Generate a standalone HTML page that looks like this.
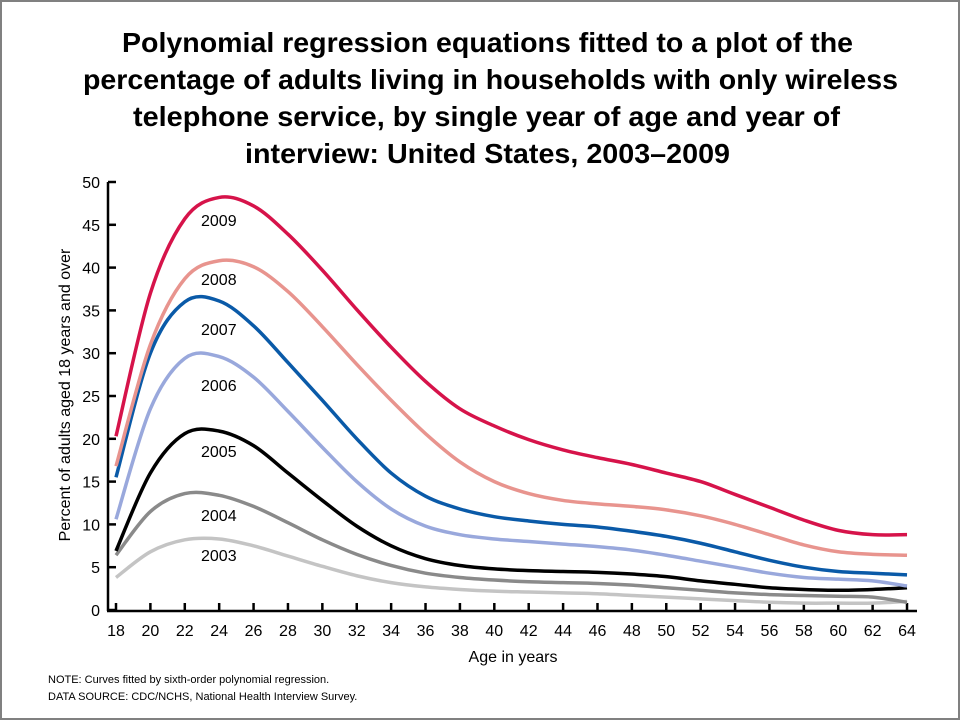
<!DOCTYPE html>
<html><head><meta charset="utf-8"><style>
html,body{margin:0;padding:0;background:#fff}
svg{display:block;font-family:"Liberation Sans",Arial,sans-serif}
</style></head><body>
<svg id="s" width="960" height="720" viewBox="0 0 960 720" xmlns="http://www.w3.org/2000/svg">
<rect x="1" y="1" width="958" height="718" fill="#fff" stroke="#808080" stroke-width="2"/>
<g font-weight="bold" font-size="28" text-anchor="start" fill="#000">
<text x="122" y="52" textLength="731" lengthAdjust="spacingAndGlyphs">Polynomial regression equations fitted to a plot of the</text>
<text x="83" y="89" textLength="815" lengthAdjust="spacingAndGlyphs">percentage of adults living in households with only wireless</text>
<text x="133" y="126" textLength="707" lengthAdjust="spacingAndGlyphs">telephone service, by single year of age and year of</text>
<text x="245" y="163" textLength="485" lengthAdjust="spacingAndGlyphs">interview: United States, 2003–2009</text>
</g>
<g id="axes" stroke="#000" stroke-width="2.5" fill="none">
<line x1="108" y1="182" x2="108" y2="611"/>
<line x1="107" y1="611" x2="917" y2="611"/>
</g>
<g id="ticks"></g>
<g id="curves" fill="none" stroke-width="3.5" stroke-linecap="butt"></g>
<g font-size="16" fill="#000">
<text x="201" y="226">2009</text>
<text x="201" y="285">2008</text>
<text x="201" y="335">2007</text>
<text x="201" y="391">2006</text>
<text x="201" y="457">2005</text>
<text x="201" y="521">2004</text>
<text x="201" y="561">2003</text>
</g>
<text x="513" y="662" font-size="16" text-anchor="middle">Age in years</text>
<text transform="translate(70,395) rotate(-90)" font-size="16" text-anchor="middle">Percent of adults aged 18 years and over</text>
<text x="48" y="683" font-size="11">NOTE: Curves fitted by sixth-order polynomial regression.</text>
<text x="48" y="700" font-size="11">DATA SOURCE: CDC/NCHS, National Health Interview Survey.</text>
</svg>
<script>
const NS="http://www.w3.org/2000/svg";
const X=a=>116+(a-18)*17.196, Y=v=>610-v*8.56;
const tk=document.getElementById('ticks');
function add(p,tag,at,txt){const e=document.createElementNS(NS,tag);for(const k in at)e.setAttribute(k,at[k]);if(txt!==undefined)e.textContent=txt;p.appendChild(e);return e;}
for(let v=0;v<=50;v+=5){const y=Y(v);add(tk,'line',{x1:108,x2:116,y1:y,y2:y,stroke:'#000','stroke-width':2.5});add(tk,'text',{x:100,y:y+6,'font-size':16,'text-anchor':'end'},v);}
for(let a=18;a<=64;a+=2){const x=X(a);add(tk,'line',{x1:x,x2:x,y1:603,y2:611,stroke:'#000','stroke-width':2.5});add(tk,'text',{x:x,y:636,'font-size':16,'text-anchor':'middle'},a);}
const D=[
['#c4c4c4',[3.8,6.8,8.2,8.3,7.5,6.3,5.1,4,3.2,2.7,2.4,2.2,2.1,2,1.9,1.7,1.5,1.3,1.1,0.9,0.8,0.8,0.8,1.0]],
['#8a8a8a',[6.4,11.5,13.6,13.4,12.1,10.2,8.2,6.5,5.2,4.3,3.8,3.5,3.3,3.2,3.1,2.9,2.6,2.3,2.0,1.8,1.7,1.6,1.5,0.9]],
['#000000',[6.9,16,20.6,20.9,19.2,16,12.8,9.8,7.5,6,5.2,4.8,4.6,4.5,4.4,4.2,3.9,3.4,3,2.6,2.4,2.3,2.4,2.6]],
['#99a8dc',[10.6,23.5,29.4,29.6,27.2,23.2,19,15,11.8,9.8,8.8,8.3,8,7.7,7.4,7,6.4,5.7,5,4.3,3.8,3.6,3.4,2.8]],
['#0a5aa8',[15.5,30,36,36.1,33.2,28.9,24.5,20,16,13.3,11.8,10.9,10.4,10,9.7,9.2,8.6,7.8,6.8,5.8,5,4.5,4.3,4.1]],
['#e8948e',[16.8,31,38.7,40.8,40.1,37.2,33.1,28.7,24.5,20.6,17.3,15,13.6,12.8,12.4,12.1,11.7,11,10,8.8,7.6,6.8,6.5,6.4]],
['#d6134a',[20.3,37,45.7,48.2,47.2,43.9,39.7,35.1,30.7,26.7,23.5,21.5,19.9,18.7,17.8,17,16,15,13.5,12,10.5,9.3,8.8,8.8]]
];
const cg=document.getElementById('curves');
D.forEach(([c,v])=>{const p=v.map((y,i)=>[X(18+2*i),Y(y)]);let d='M'+p[0].join(',');
for(let i=0;i<p.length-1;i++){const p0=p[i-1]||p[i],p1=p[i],p2=p[i+1],p3=p[i+2]||p2;
const c1=[p1[0]+(p2[0]-p0[0])/6,p1[1]+(p2[1]-p0[1])/6],c2=[p2[0]-(p3[0]-p1[0])/6,p2[1]-(p3[1]-p1[1])/6];
d+=' C'+c1.join(',')+' '+c2.join(',')+' '+p2.join(',');}
add(cg,'path',{d:d,stroke:c});});
</script>
</body></html>
